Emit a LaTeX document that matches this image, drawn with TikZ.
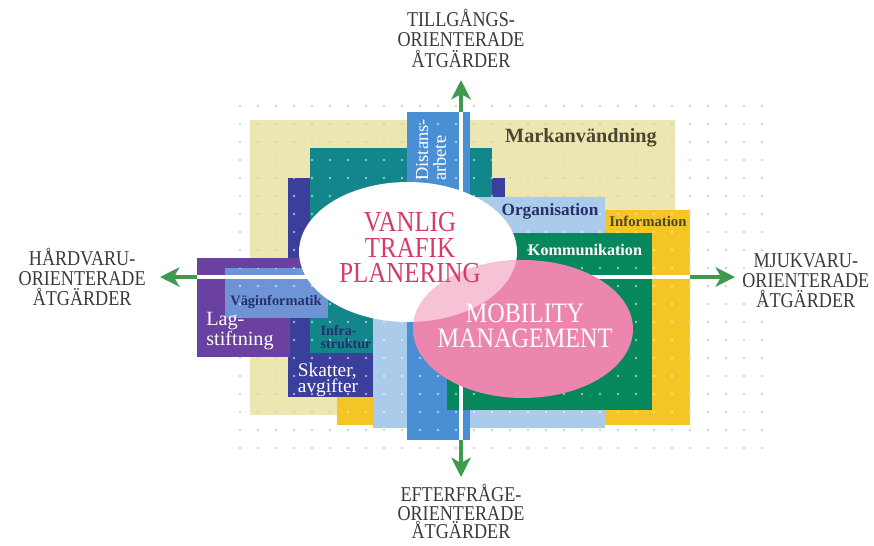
\documentclass[tikz,border=0pt]{standalone}
\usepackage{fontspec}
\setmainfont{Liberation Serif}
\newfontfamily\capsfont{Liberation Serif}[FakeStretch=0.86]
\usepackage{xcolor}
\usetikzlibrary{arrows.meta,positioning}

\definecolor{sand}{HTML}{ECE7B0}
\definecolor{sunflower}{HTML}{F5C425}
\definecolor{tealbox}{HTML}{12868A}
\definecolor{indigobox}{HTML}{3B3F9C}
\definecolor{purplebox}{HTML}{6A40A0}
\definecolor{roadblue}{HTML}{6E94D6}
\definecolor{paleblue}{HTML}{AACBEA}
\definecolor{skyblue}{HTML}{4A8ED4}
\definecolor{commgreen}{HTML}{07875C}
\definecolor{mmpink}{HTML}{EC86AE}
\definecolor{overlappink}{HTML}{F6C2D5}
\definecolor{crimson}{HTML}{D53A6B}
\definecolor{labelgrey}{HTML}{3A3A3A}
\definecolor{arrowgreen}{HTML}{3F9A50}
\definecolor{dotgrey}{HTML}{D2D2D2}
\definecolor{navytext}{HTML}{26306A}
\definecolor{olivetext}{HTML}{4A4630}

\begin{document}
\begin{tikzpicture}[
    x=0.02cm, y=-0.02cm,
    outer/.style={font=\capsfont\fontsize{12}{11.5}\selectfont, text=labelgrey,
      align=center, inner sep=0pt},
    centre/.style={align=center, inner sep=0pt},
    boxlabel/.style={align=left, inner sep=0pt},
    axisline/.style={white, line width=2.3pt},
    arrow/.style={draw=arrowgreen, line width=2.3pt,
      -{Stealth[length=11pt, width=11pt, inset=3pt]}}
  ]
    \useasboundingbox (0,0) rectangle (874,545);

    % background field and dots
    \fill[sand] (250,120) rectangle (675,415);
    \foreach \i in {0,...,29} {
      \foreach \j in {0,...,19} {
        \fill[dotgrey] (240+18*\i,106+18*\j) circle (0.75pt);
      }
    }

    % measures
    \fill[sunflower] (337,210) rectangle (690,425);
    \fill[indigobox] (288,178) rectangle (505,397);
    \fill[tealbox] (310,148) rectangle (492,353);
    \fill[paleblue] (373,197) rectangle (605,428);
    \fill[purplebox] (197,258) rectangle (300,273);
    \fill[purplebox] (197,273) rectangle (290,357);
    \fill[roadblue] (225,268) rectangle (328,318);
    \fill[skyblue] (407,112) rectangle (470,440);
    \fill[commgreen] (447,233) rectangle (652,410);

    % white dots on the coloured boxes
    \begin{scope}
      \clip (337,210) rectangle (690,425) (288,178) rectangle (505,397)
        (310,148) rectangle (492,353) (373,197) rectangle (605,428)
        (225,268) rectangle (328,318) (407,112) rectangle (470,440)
        (447,233) rectangle (652,410);
      \foreach \i in {0,...,29} {
        \foreach \j in {0,...,19} {
          \fill[white, opacity=0.55] (240+18*\i,106+18*\j) circle (0.8pt);
        }
      }
    \end{scope}

    % axes
    \coordinate (leftbase) at (197,277);
    \coordinate (rightbase) at (690,277);
    \coordinate (upbase) at (461,112);
    \coordinate (downbase) at (461,440);
    \coordinate (lefttip) at (160,277);
    \coordinate (righttip) at (735,277);
    \coordinate (uptip) at (461,80);
    \coordinate (downtip) at (461,477);
    \draw[axisline] (leftbase) -- (rightbase);
    \draw[axisline] (upbase) -- (downbase);

    % the two approaches
    \fill[white] (408,252) ellipse [x radius=2.18cm, y radius=1.4cm];
    \fill[mmpink] (523,329) ellipse [x radius=2.2cm, y radius=1.38cm];
    \begin{scope}
      \clip (408,252) ellipse [x radius=2.18cm, y radius=1.4cm];
      \fill[overlappink] (523,329) ellipse [x radius=2.2cm, y radius=1.38cm];
    \end{scope}

    \draw[arrow] (leftbase) -- (lefttip);
    \draw[arrow] (rightbase) -- (righttip);
    \draw[arrow] (upbase) -- (uptip);
    \draw[arrow] (downbase) -- (downtip);

    % labels
    \node[centre, text=crimson, font=\capsfont\fontsize{16.5}{14.5}\selectfont]
      (vanlig) at (410,248) {VANLIG\\TRAFIK\\PLANERING};
    \node[centre, text=white, font=\capsfont\fontsize{16}{14.2}\selectfont]
      (mobility) at (525,326) {MOBILITY\\MANAGEMENT};

    \node[boxlabel, text=olivetext, font=\bfseries\fontsize{11.5}{12}\selectfont]
      (markan) at (581,138) {Markanvändning};
    \node[boxlabel, text=navytext, font=\bfseries\fontsize{9.8}{10}\selectfont]
      (organisation) at (550,211) {Organisation};
    \node[boxlabel, text=olivetext, font=\bfseries\fontsize{8.4}{9}\selectfont]
      (information) at (648,221) {Information};
    \node[boxlabel, text=white, font=\bfseries\fontsize{9.2}{10}\selectfont]
      (kommunikation) at (585,250) {Kommunikation};
    \node[boxlabel, text=navytext, font=\bfseries\fontsize{8.2}{9}\selectfont]
      (vaginfo) at (276,302) {Väginformatik};
    \node[boxlabel, text=white, font=\fontsize{11.5}{10.5}\selectfont]
      (lag) at (240,331) {Lag-\\stiftning};
    \node[boxlabel, text=navytext, font=\bfseries\fontsize{8}{7.5}\selectfont]
      (infra) at (346,337) {Infra-\\struktur};
    \node[boxlabel, text=white, font=\fontsize{11}{9.5}\selectfont]
      (skatter) at (328,380) {Skatter,\\avgifter};
    \node[boxlabel, text=white, rotate=90, font=\fontsize{10.5}{10}\selectfont]
      (distans) at (431,150) {Distans-\\arbete};

    \node[outer, above=7pt of uptip] (tillgang) {TILLGÅNGS-\\ORIENTERADE\\ÅTGÄRDER};
    \node[outer, below=4pt of downtip, font=\capsfont\fontsize{12}{10.5}\selectfont]
      (efterfrage) {EFTERFRÅGE-\\ORIENTERADE\\ÅTGÄRDER};
    \node[outer, left=8pt of lefttip] (hardvaru) {HÅRDVARU-\\ORIENTERADE\\ÅTGÄRDER};
    \node[outer, right=4pt of righttip, yshift=-2pt] (mjukvaru) {MJUKVARU-\\ORIENTERADE\\ÅTGÄRDER};
\end{tikzpicture}
\end{document}
